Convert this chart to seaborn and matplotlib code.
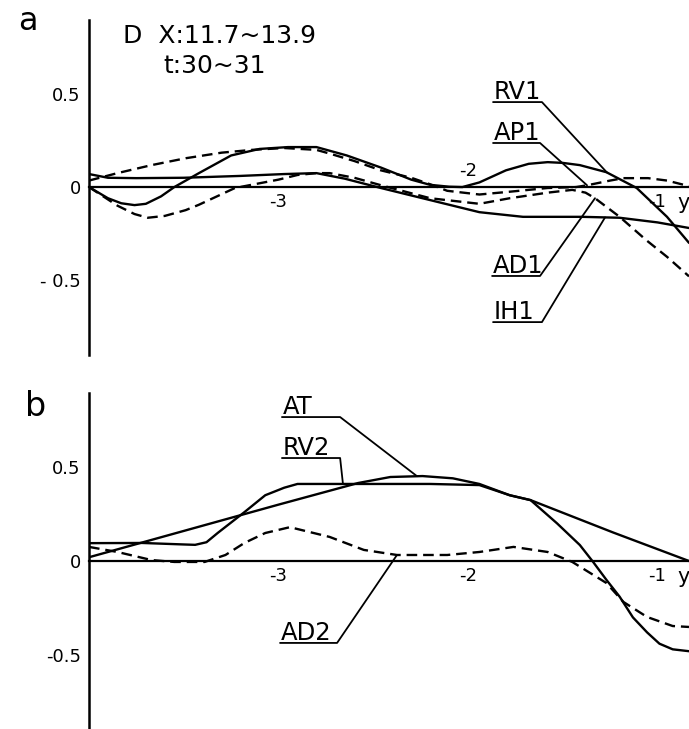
# Profiles along y for panel D (a: RV1/AP1/AD1/IH1, b: AT/RV2/AD2)
import numpy as np
import pandas as pd
import matplotlib
matplotlib.use('Agg')
import matplotlib.pyplot as plt
import seaborn as sns

sns.set_style("white")
plt.rcParams['font.family'] = ['DejaVu Sans']
plt.rcParams['text.color'] = 'black'
plt.rcParams['xtick.color'] = 'black'
plt.rcParams['ytick.color'] = 'black'
plt.rcParams['axes.edgecolor'] = 'black'

# Panel a curves
rv1_x = [-4.0, -3.9, -3.83, -3.76, -3.7, -3.62, -3.55, -3.42, -3.25, -3.1, -2.95, -2.8, -2.64, -2.46, -2.3, -2.2, -2.1, -2.03, -1.94, -1.8, -1.68, -1.58, -1.5, -1.41, -1.27, -1.11, -0.95, -0.834]
rv1_y = [0.0, -0.06, -0.087, -0.097, -0.09, -0.05, 0.0, 0.075, 0.17, 0.205, 0.215, 0.215, 0.17, 0.105, 0.04, 0.012, 0.002, 0.0, 0.025, 0.09, 0.125, 0.134, 0.13, 0.118, 0.08, -0.005, -0.16, -0.30]

ap1_x = [-4.0, -3.85, -3.67, -3.49, -3.3, -3.14, -2.97, -2.8, -2.73, -2.6, -2.46, -2.3, -2.2, -2.11, -1.94, -1.78, -1.58, -1.43, -1.37, -1.25, -1.18, -1.05, -0.95, -0.834]
ap1_y = [0.035, 0.075, 0.118, 0.155, 0.185, 0.20, 0.21, 0.2, 0.18, 0.14, 0.09, 0.05, 0.015, -0.02, -0.04, -0.025, -0.005, 0.0, 0.01, 0.035, 0.048, 0.048, 0.035, 0.005]

ad1_x = [-4.0, -3.85, -3.76, -3.69, -3.6, -3.49, -3.42, -3.23, -3.0, -2.9, -2.8, -2.73, -2.6, -2.46, -2.2, -1.94, -1.78, -1.58, -1.45, -1.38, -1.33, -1.2, -1.06, -0.95, -0.834]
ad1_y = [0.0, -0.10, -0.145, -0.165, -0.155, -0.124, -0.095, -0.005, 0.04, 0.065, 0.075, 0.075, 0.05, 0.01, -0.06, -0.09, -0.06, -0.03, -0.015, -0.03, -0.06, -0.16, -0.285, -0.375, -0.48]

ih1_x = [-4.0, -3.9, -3.75, -3.5, -3.2, -2.97, -2.8, -2.65, -2.46, -2.2, -1.94, -1.71, -1.4, -1.2, -1.0, -0.834]
ih1_y = [0.07, 0.05, 0.048, 0.05, 0.06, 0.07, 0.075, 0.045, -0.005, -0.07, -0.135, -0.16, -0.16, -0.165, -0.19, -0.22]

# Panel b curves
at_x = [-4.0, -3.5, -3.0, -2.58, -2.41, -2.24, -2.08, -1.94, -1.78, -1.67, -1.235, -0.834]
at_y = [0.02, 0.16, 0.30, 0.415, 0.447, 0.452, 0.44, 0.41, 0.35, 0.324, 0.152, 0.0]

rv2_x = [-4.0, -3.72, -3.5, -3.44, -3.38, -3.32, -3.18, -3.07, -2.97, -2.9, -2.6, -2.2, -1.94, -1.78, -1.67, -1.53, -1.41, -1.34, -1.27, -1.2, -1.13, -1.055, -0.99, -0.92, -0.834]
rv2_y = [0.095, 0.096, 0.088, 0.086, 0.1, 0.15, 0.26, 0.35, 0.39, 0.41, 0.41, 0.41, 0.404, 0.35, 0.324, 0.2, 0.085, -0.005, -0.1, -0.19, -0.30, -0.38, -0.44, -0.47, -0.48]

ad2_x = [-4.0, -3.85, -3.67, -3.55, -3.39, -3.28, -3.18, -3.07, -2.94, -2.73, -2.55, -2.375, -2.11, -1.94, -1.76, -1.58, -1.45, -1.27, -1.18, -1.055, -0.92, -0.834]
ad2_y = [0.075, 0.048, 0.005, -0.005, -0.005, 0.032, 0.096, 0.149, 0.18, 0.128, 0.059, 0.032, 0.032, 0.048, 0.075, 0.048, -0.005, -0.117, -0.218, -0.298, -0.346, -0.351]

x_ticks = [-3, -2, -1]

solid = '-'
dashed = (0, (4.5, 2.5))

# name, x, y, style, label underline start/end x, underline y, leader x
curves_a = [
    ('RV1', rv1_x, rv1_y, solid, -1.868, -1.610, 0.457, -1.267),
    ('AP1', ap1_x, ap1_y, dashed, -1.868, -1.620, 0.237, -1.372),
    ('AD1', ad1_x, ad1_y, dashed, -1.873, -1.620, -0.478, -1.330),
    ('IH1', ih1_x, ih1_y, solid, -1.868, -1.610, -0.726, -1.277),
]
curves_b = [
    ('AT', at_x, at_y, solid, -2.982, -2.675, 0.766, -2.269),
    ('RV2', rv2_x, rv2_y, solid, -2.982, -2.675, 0.548, -2.660),
    ('AD2', ad2_x, ad2_y, dashed, -2.992, -2.691, -0.436, -2.375),
]

fig = plt.figure(figsize=(6.89, 7.29), dpi=100)
ax_a = fig.add_axes([0.1292, 0.5130, 0.8708, 0.4595])
ax_b = fig.add_axes([0.1292, 0.0, 0.8708, 0.4609])

tick_fs = 13
lab_fs = 17.5


def draw_panel(ax, curves, ylim, xlabels, ylabels):
    for name, xs, ys, ls, u0, u1, uy, lx in curves:
        df = pd.DataFrame({'x': xs, 'y': ys})
        sns.lineplot(data=df, x='x', y='y', ax=ax, color='k', lw=1.7,
                     linestyle=ls, estimator=None, sort=False)
        # label with underline and leader to the curve
        ly = np.interp(lx, xs, ys)
        ax.plot([u0, u1, lx], [uy, uy, ly], color='k', lw=1.3)
        ax.text(u0 + 0.005, uy + 0.018, name, fontsize=lab_fs, ha='left', va='baseline')

    ax.set_xlim(-4.0, -0.834)
    ax.set_ylim(*ylim)
    ax.set_xlabel('')
    ax.set_ylabel('')
    ax.spines[['top', 'right']].set_visible(False)
    ax.spines['bottom'].set_position(('data', 0))
    ax.spines['left'].set_linewidth(1.8)
    ax.spines['bottom'].set_linewidth(1.6)
    ax.set_xticks(x_ticks)
    ax.set_xticklabels(xlabels)
    ax.set_yticks([-0.5, 0, 0.5])
    ax.set_yticklabels(ylabels)
    ax.tick_params(axis='x', direction='in', length=6, width=1.4, pad=4, labelsize=tick_fs)
    ax.tick_params(axis='y', direction='inout', length=8, width=1.4, pad=2, labelsize=tick_fs)
    ax.patch.set_alpha(0)
    ax.text(-0.895, -0.03, 'y', fontsize=tick_fs + 2, ha='left', va='top')


draw_panel(ax_a, curves_a, (-0.903, 0.898), ['-3', '', '-1'], ['- 0.5', '0', '0.5'])
ax_a.text(-2.0, 0.04, '-2', fontsize=tick_fs, ha='center', va='bottom')
draw_panel(ax_b, curves_b, (-0.894, 0.894), ['-3', '-2', '-1'], ['-0.5', '0', '0.5'])

fig.text(0.026, 0.9588, 'a', fontsize=23, ha='left', va='baseline')
fig.text(0.036, 0.4294, 'b', fontsize=24, ha='left', va='baseline')
fig.text(0.1785, 0.941, 'D  X:11.7~13.9', fontsize=18, ha='left', va='baseline')
fig.text(0.2366, 0.8999, 't:30~31', fontsize=18, ha='left', va='baseline')

fig.savefig('out.png', dpi=100)
